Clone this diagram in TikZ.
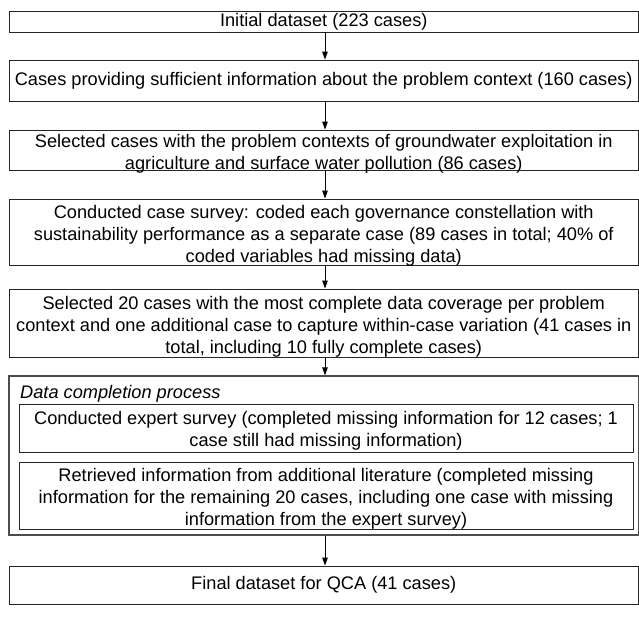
\documentclass[tikz,border=0pt]{standalone}
\usepackage{fontspec}
\setmainfont{Liberation Sans}
\usetikzlibrary{arrows.meta}
\begin{document}
\begin{tikzpicture}[x=1pt,y=-1pt,
  box/.style={draw=black!85, line width=0.9pt, rectangle, inner sep=0pt,
    minimum width=629.5pt},
  innerbox/.style={box, minimum width=614pt},
  txt/.style={inner sep=0pt, align=center, font=\fontsize{18.2}{22}\selectfont},
  outerbox/.style={draw=black!70, line width=1.2pt, rectangle, inner sep=0pt, minimum width=629.5pt},
  arr/.style={draw=black, line width=1pt, -{Triangle[length=8pt,width=5.5pt]}}]
\useasboundingbox (0,0) rectangle (639,617);
\coordinate (ax) at (325,0);
\node[box, minimum height=21pt] (b1) at (323.75,21.5) {};
\node[txt] (t1) at (b1.center) {Initial dataset (223 cases)};
\node[box, minimum height=41pt] (b2) at (323.75,80.5) {};
\node[txt] (t2) at (b2.center) {Cases providing sufficient information about the problem context (160 cases)};
\node[box, minimum height=40pt] (b3) at (323.75,150) {};
\node[txt, yshift=-3.5pt] (t3) at (b3.center) {Selected cases with the problem contexts of groundwater exploitation in\\agriculture and surface water pollution (86 cases)};
\node[box, minimum height=66pt] (b4) at (323.75,232) {};
\node[txt, yshift=-3.5pt] (t4) at (b4.center) {Conducted case survey: coded each governance constellation with\\sustainability performance as a separate case (89 cases in total; 40\% of\\coded variables had missing data)};
\node[box, minimum height=68pt] (b5) at (323.75,323) {};
\node[txt, yshift=-3.5pt] (t5) at (b5.center) {Selected 20 cases with the most complete data coverage per problem\\context and one additional case to capture within-case variation (41 cases in\\total, including 10 fully complete cases)};
\node[outerbox, minimum height=159pt] (dc) at (323.75,455.5) {};
\node[anchor=west, inner sep=0pt, font=\fontsize{18.2}{22}\selectfont\itshape] (dcl) at (20,393.5) {Data completion process};
\node[innerbox, minimum height=48pt] (i1) at (326,428) {};
\node[txt, yshift=-2.5pt] (ti1) at (i1.center) {Conducted expert survey (completed missing information for 12 cases; 1\\case still had missing information)};
\node[innerbox, minimum height=67pt] (i2) at (326,495.5) {};
\node[txt, yshift=-3pt] (ti2) at (i2.center) {Retrieved information from additional literature (completed missing\\information for the remaining 20 cases, including one case with missing\\information from the expert survey)};
\node[box, minimum height=38pt] (fin) at (323.75,585) {};
\node[txt] (tf) at (fin.center) {Final dataset for QCA (41 cases)};
\draw[arr] (b1.south -| ax) -- (b2.north -| ax);
\draw[arr] (b2.south -| ax) -- (b3.north -| ax);
\draw[arr] (b3.south -| ax) -- (b4.north -| ax);
\draw[arr] (b4.south -| ax) -- (b5.north -| ax);
\draw[arr] (b5.south -| ax) -- (dc.north -| ax);
\draw[arr] (dc.south -| ax) -- (fin.north -| ax);
\end{tikzpicture}
\end{document}
